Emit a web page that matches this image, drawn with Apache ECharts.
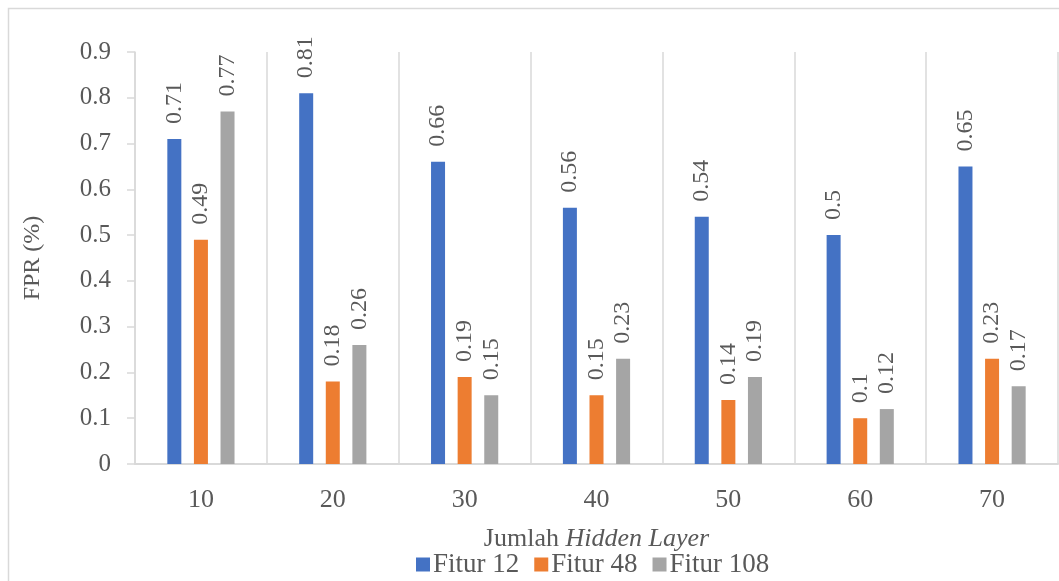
<!DOCTYPE html>
<html>
<head>
<meta charset="utf-8">
<script src="https://cdn.jsdelivr.net/npm/echarts@6/dist/echarts.min.js"></script>
<style>
  html, body { margin: 0; padding: 0; background: #fff; }
  #chart { width: 1059px; height: 581px; }
</style>
</head>
<body>
<div id="chart"></div>
<script>
// Hidden-layer counts on the x axis
const hiddenLayers = ['10', '20', '30', '40', '50', '60', '70'];
// FPR per feature set
const fitur12 = [0.71, 0.81, 0.66, 0.56, 0.54, 0.5, 0.65];
const fitur48 = [0.49, 0.18, 0.19, 0.15, 0.14, 0.1, 0.23];
const fitur108 = [0.77, 0.26, 0.15, 0.23, 0.19, 0.12, 0.17];
const seriesNames = ['Fitur 12', 'Fitur 48', 'Fitur 108'];
const colors = ['#4472C4', '#ED7D31', '#A5A5A5'];

const font = '"Liberation Serif", "Times New Roman", serif';
const textColor = '#595959';

function barSeries(name, data, color) {
  return {
    name: name,
    type: 'bar',
    data: data,
    barWidth: 14,
    barGap: '90%',
    itemStyle: { color: color },
    label: {
      show: true,
      position: 'top',
      rotate: 90,
      align: 'left',
      verticalAlign: 'middle',
      distance: 15,
      fontFamily: font,
      fontSize: 24,
      color: textColor
    }
  };
}

const chart = echarts.init(document.getElementById('chart'));
chart.setOption({
  animation: false,
  backgroundColor: '#fff',
  color: colors,
  graphic: [{
    type: 'rect',
    shape: { x: 8.5, y: 8.5, width: 1100, height: 600 },
    style: { fill: 'none', stroke: '#d9d9d9', lineWidth: 1.5 },
    silent: true,
    z: -10
  }],
  grid: { left: 135, top: 52, width: 923, bottom: 117, containLabel: false },
  legend: {
    data: seriesNames,
    top: 546,
    left: 411,
    itemWidth: 14,
    itemHeight: 14,
    itemGap: 15,
    icon: 'rect',
    textStyle: { fontFamily: font, fontSize: 27, color: textColor, padding: [0, 0, 0, -2] }
  },
  xAxis: {
    type: 'category',
    data: hiddenLayers,
    name: '{n|Jumlah }{i|Hidden Layer}',
    nameLocation: 'middle',
    nameGap: 62,
    nameTextStyle: {
      rich: {
        n: { fontFamily: font, fontSize: 26, color: textColor },
        i: { fontFamily: font, fontSize: 26, fontStyle: 'italic', color: textColor }
      }
    },
    axisLine: { show: true, lineStyle: { color: '#d9d9d9', width: 2 } },
    axisTick: { show: false },
    axisLabel: { fontFamily: font, fontSize: 26, color: textColor, margin: 23 },
    splitLine: { show: true, lineStyle: { color: '#d9d9d9', width: 1.5 } }
  },
  yAxis: {
    type: 'value',
    min: 0,
    max: 0.9,
    interval: 0.1,
    name: 'FPR (%)',
    nameLocation: 'middle',
    nameGap: 90,
    nameRotate: 90,
    nameTextStyle: { fontFamily: font, fontSize: 24, color: textColor },
    axisLine: { show: true, lineStyle: { color: '#d9d9d9', width: 1.5 } },
    axisTick: { show: true, length: 8, lineStyle: { color: '#d9d9d9', width: 1.5 } },
    axisLabel: {
      fontFamily: font, fontSize: 25, color: textColor, margin: 24,
      formatter: v => String(Math.round(v * 10) / 10)
    },
    splitLine: { show: false }
  },
  series: [
    barSeries(seriesNames[0], fitur12, colors[0]),
    barSeries(seriesNames[1], fitur48, colors[1]),
    barSeries(seriesNames[2], fitur108, colors[2])
  ]
});
</script>
</body>
</html>
